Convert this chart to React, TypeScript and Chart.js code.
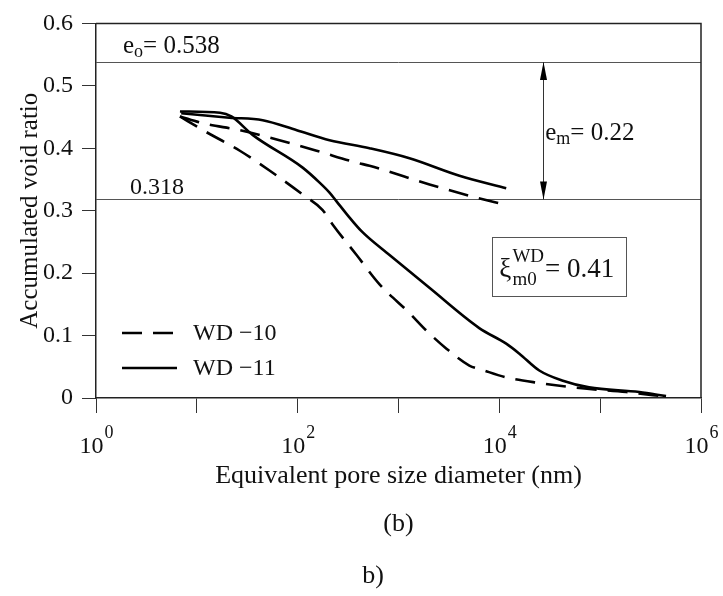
import React, { useEffect, useRef } from "react";
import { Chart, registerables } from "chart.js";

Chart.register(...registerables);

const FONT = "'Liberation Serif', 'Times New Roman', serif";

// ---- data (x: pore diameter in nm, y: accumulated void ratio) ----
const wd10Upper: [number, number][] = [
  [6.8, 0.451], [11.5, 0.44], [26.7, 0.429], [66, 0.413], [154, 0.396],
  [384, 0.377], [516, 0.372], [2030, 0.342], [5040, 0.324], [11700, 0.309],
];
const wd10Lower: [number, number][] = [
  [6.8, 0.451], [11.5, 0.429], [26.7, 0.396], [53, 0.364], [112, 0.326],
  [177, 0.301], [222, 0.278], [384, 0.229], [649, 0.182], [1285, 0.136],
  [1890, 0.108], [2990, 0.079], [5040, 0.052], [6790, 0.045], [11700, 0.033],
  [24900, 0.024], [62000, 0.016], [181000, 0.0095], [450000, 0.002],
];
const wd11Upper: [number, number][] = [
  [7.0, 0.456], [21, 0.449], [45, 0.445], [98, 0.429], [207, 0.413],
  [516, 0.4], [1285, 0.384], [4020, 0.356], [11700, 0.336],
];
const wd11Lower: [number, number][] = [
  [6.8, 0.459], [17, 0.457], [22, 0.451], [36, 0.421], [112, 0.369],
  [165, 0.345], [207, 0.329], [243, 0.315], [305, 0.295], [437, 0.266],
  [815, 0.229], [2040, 0.176], [6320, 0.112], [11700, 0.087], [15800, 0.071],
  [24900, 0.044], [41900, 0.028], [77600, 0.017], [245000, 0.0095], [450000, 0.003],
];

const seriesNames = ["WD \u221210", "WD \u221211"];
const yTicks = [0, 0.1, 0.2, 0.3, 0.4, 0.5, 0.6];
const xTickExponents = [0, 1, 2, 3, 4, 5, 6];
const xLabelExponents = [0, 2, 4, 6];

const eInitial = 0.538;
const eLower = 0.318;
const eM = 0.22;
const xiValue = 0.41;
const arrowXValue = 27000;
const eInitLabelX = 1.85;
const eLowerLabelX = 2.17;
const emLabelX = 28500;
const xiBoxX = [8530, 181000];
const xiBoxY = [0.258, 0.163];

type Part = { t: string; size: number; dy?: number };

function rich(ctx: CanvasRenderingContext2D, parts: Part[], x: number, y: number) {
  let cx = x;
  for (const p of parts) {
    ctx.font = `${p.size}px ${FONT}`;
    ctx.fillText(p.t, cx, y + (p.dy || 0));
    cx += ctx.measureText(p.t).width;
  }
  return cx;
}

const annotPlugin = {
  id: "annot",
  beforeDatasetsDraw(chart: any) {
    const { ctx, chartArea: a, scales } = chart;
    const x = scales.x;
    const y = scales.y;
    ctx.save();
    // reference lines
    ctx.strokeStyle = "#555";
    ctx.lineWidth = 1;
    for (const v of [eInitial, eLower]) {
      const py = Math.round(y.getPixelForValue(v)) + 0.5;
      ctx.beginPath();
      ctx.moveTo(a.left, py);
      ctx.lineTo(a.right, py);
      ctx.stroke();
    }
    // top & right frame
    ctx.strokeStyle = "#222";
    ctx.lineWidth = 1.5;
    ctx.beginPath();
    ctx.moveTo(a.left, a.top);
    ctx.lineTo(a.right, a.top);
    ctx.lineTo(a.right, a.bottom);
    ctx.stroke();
    // double arrow
    const ax = Math.round(x.getPixelForValue(arrowXValue)) + 0.5;
    const y1 = y.getPixelForValue(eInitial);
    const y2 = y.getPixelForValue(eLower);
    ctx.strokeStyle = "#333";
    ctx.lineWidth = 1;
    ctx.beginPath();
    ctx.moveTo(ax, y1);
    ctx.lineTo(ax, y2);
    ctx.stroke();
    ctx.fillStyle = "#000";
    const hl = 18, hw = 3.5;
    ctx.beginPath();
    ctx.moveTo(ax, y1);
    ctx.lineTo(ax - hw, y1 + hl);
    ctx.lineTo(ax + hw, y1 + hl);
    ctx.closePath();
    ctx.fill();
    ctx.beginPath();
    ctx.moveTo(ax, y2);
    ctx.lineTo(ax - hw, y2 - hl);
    ctx.lineTo(ax + hw, y2 - hl);
    ctx.closePath();
    ctx.fill();
    ctx.restore();
  },
  afterDraw(chart: any) {
    const { ctx, chartArea: a, scales } = chart;
    const x = scales.x;
    const y = scales.y;
    ctx.save();
    ctx.fillStyle = "#111";
    ctx.textBaseline = "alphabetic";
    ctx.textAlign = "left";

    // e_o label
    rich(ctx, [
      { t: "e", size: 25 },
      { t: "o", size: 18, dy: 4 },
      { t: "= " + eInitial.toFixed(3), size: 25 },
    ], x.getPixelForValue(eInitLabelX), y.getPixelForValue(eInitial) - 9);

    // lower line label
    ctx.font = `24px ${FONT}`;
    ctx.fillText(String(eLower), x.getPixelForValue(eLowerLabelX), y.getPixelForValue(eLower) - 5);

    // e_m label
    rich(ctx, [
      { t: "e", size: 25 },
      { t: "m", size: 18, dy: 4 },
      { t: "= " + eM.toFixed(2), size: 25 },
    ], x.getPixelForValue(emLabelX), y.getPixelForValue((eInitial + eLower) / 2) + 9);

    // xi box
    const bx1 = x.getPixelForValue(xiBoxX[0]);
    const bx2 = x.getPixelForValue(xiBoxX[1]);
    const by1 = y.getPixelForValue(xiBoxY[0]);
    const by2 = y.getPixelForValue(xiBoxY[1]);
    ctx.strokeStyle = "#555";
    ctx.lineWidth = 1;
    ctx.strokeRect(Math.round(bx1) + 0.5, Math.round(by1) + 0.5, Math.round(bx2 - bx1), Math.round(by2 - by1));
    const baseY = (by1 + by2) / 2 + 10;
    ctx.font = `27px ${FONT}`;
    const xiX = bx1 + 7;
    ctx.fillText("\u03BE", xiX, baseY);
    const afterXi = xiX + ctx.measureText("\u03BE").width + 1;
    ctx.font = `19px ${FONT}`;
    ctx.fillText("WD", afterXi, baseY - 15);
    const wWD = ctx.measureText("WD").width;
    ctx.fillText("m0", afterXi, baseY + 8);
    const wM0 = ctx.measureText("m0").width;
    ctx.font = `27px ${FONT}`;
    ctx.fillText("= " + xiValue.toFixed(2), afterXi + Math.max(wWD, wM0) + 1, baseY);

    // legend
    const lgX1 = 122, lgX2 = 177;
    const lgY = [333, 368];
    const dsets = chart.data.datasets;
    for (let i = 0; i < 2; i++) {
      const ds = dsets[i * 2];
      ctx.strokeStyle = "#000";
      ctx.lineWidth = ds.borderWidth;
      ctx.setLineDash(ds.borderDash || []);
      ctx.beginPath();
      ctx.moveTo(lgX1, lgY[i]);
      ctx.lineTo(lgX2, lgY[i]);
      ctx.stroke();
      ctx.setLineDash([]);
      ctx.font = `24px ${FONT}`;
      ctx.textBaseline = "middle";
      ctx.fillText(seriesNames[i], 193, lgY[i] + 1);
      ctx.textBaseline = "alphabetic";
    }

    // x tick labels 10^n
    for (const e of xLabelExponents) {
      const px = x.getPixelForValue(Math.pow(10, e));
      ctx.font = `24px ${FONT}`;
      const w10 = ctx.measureText("10").width;
      ctx.font = `18px ${FONT}`;
      const wE = ctx.measureText(String(e)).width;
      const sx = px - (w10 + wE) / 2;
      ctx.font = `24px ${FONT}`;
      ctx.fillText("10", sx, a.bottom + 55);
      ctx.font = `18px ${FONT}`;
      ctx.fillText(String(e), sx + w10 + 1, a.bottom + 40);
    }

    // captions
    ctx.textAlign = "center";
    ctx.font = `26px ${FONT}`;
    ctx.fillText("(b)", (a.left + a.right) / 2, 531);
    ctx.fillText("b)", 373, 583);
    ctx.restore();
  },
};

export default function App() {
  const ref = useRef<HTMLCanvasElement | null>(null);
  useEffect(() => {
    if (!ref.current) return;
    const mk = (label: string, pts: [number, number][], dashed: boolean) => ({
      label,
      data: pts.map(([x, y]) => ({ x, y })),
      borderColor: "#000",
      backgroundColor: "#000",
      borderWidth: 2.6,
      borderDash: dashed ? [20, 11] : [],
      pointRadius: 0,
      fill: false,
      cubicInterpolationMode: "monotone" as const,
    });
    const chart = new Chart(ref.current, {
      type: "line",
      data: {
        datasets: [
          mk(seriesNames[0], wd10Upper, true),
          mk(seriesNames[0], wd10Lower, true),
          mk(seriesNames[1], wd11Upper, false),
          mk(seriesNames[1], wd11Lower, false),
        ],
      },
      options: {
        animation: false,
        responsive: false,
        maintainAspectRatio: false,
        layout: { padding: { left: 0, top: 19, right: 22, bottom: 98 } },
        plugins: { legend: { display: false }, tooltip: { enabled: false } },
        scales: {
          x: {
            type: "logarithmic",
            min: 1,
            max: 1e6,
            afterBuildTicks: (s: any) => {
              s.ticks = xTickExponents.map((e) => ({ value: Math.pow(10, e) }));
            },
            afterFit: (s: any) => {
              s.height = 100;
            },
            ticks: { display: false },
            grid: { display: true, drawOnChartArea: false, tickLength: 15, color: "#333", lineWidth: 1 },
            border: { display: true, color: "#222", width: 1.5 },
            title: {
              display: true,
              text: "Equivalent pore size diameter (nm)",
              color: "#111",
              font: { family: FONT, size: 26 },
              padding: { top: 0, bottom: 6 },
            },
          },
          y: {
            type: "linear",
            min: 0,
            max: 0.6,
            afterBuildTicks: (s: any) => {
              s.ticks = yTicks.map((v) => ({ value: v }));
            },
            afterFit: (s: any) => {
              s.width = 96;
            },
            ticks: {
              color: "#111",
              font: { family: FONT, size: 24 },
              padding: 9,
              callback: (v: any) => String(Number(v)),
            },
            grid: { display: true, drawOnChartArea: false, tickLength: 14, color: "#333", lineWidth: 1 },
            border: { display: true, color: "#222", width: 1.5 },
            title: {
              display: true,
              text: "Accumulated void ratio",
              color: "#111",
              font: { family: FONT, size: 25 },
              padding: { top: 15, bottom: 0 },
            },
          },
        },
      },
      plugins: [annotPlugin],
    });
    return () => chart.destroy();
  }, []);
  return (
    <div style={{ position: "fixed", left: 0, top: 0, width: 723, height: 596, background: "#fff" }}>
      <canvas ref={ref} width={723} height={596} style={{ display: "block" }} />
    </div>
  );
}
